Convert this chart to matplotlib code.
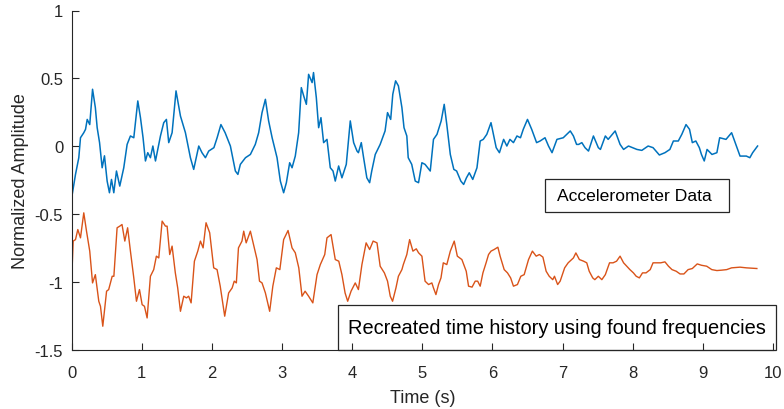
import matplotlib
matplotlib.use("Agg")
import matplotlib.pyplot as plt
from matplotlib.patches import Rectangle

plt.rcParams['font.family'] = ['Liberation Sans', 'DejaVu Sans']

# Accelerometer data
accel_t = [0.01, 0.057, 0.104, 0.128, 0.175, 0.20, 0.224, 0.26, 0.30, 0.34, 0.366, 0.40, 0.437, 0.47,
           0.508, 0.541, 0.57, 0.603, 0.641, 0.688, 0.745, 0.793, 0.84, 0.888, 0.945, 0.983, 1.02,
           1.054, 1.087, 1.125, 1.16, 1.197, 1.268, 1.315, 1.353, 1.386, 1.434, 1.49, 1.553, 1.624,
           1.695, 1.742, 1.814, 1.86, 1.909, 1.956, 2.03, 2.076, 2.13, 2.19, 2.265, 2.336, 2.372,
           2.407, 2.48, 2.55, 2.62, 2.668, 2.716, 2.764, 2.81, 2.86, 2.93, 2.977, 3.024, 3.063, 3.11,
           3.144, 3.19, 3.238, 3.276, 3.31, 3.348, 3.38, 3.43, 3.45, 3.49, 3.523, 3.556, 3.594, 3.642,
           3.689, 3.728, 3.76, 3.808, 3.855, 3.917, 3.974, 4.022, 4.07, 4.09, 4.131, 4.164, 4.21,
           4.25, 4.28, 4.33, 4.40, 4.47, 4.505, 4.55, 4.58, 4.62, 4.66, 4.71, 4.74, 4.78, 4.80, 4.85,
           4.90, 4.947, 4.995, 5.04, 5.114, 5.16, 5.21, 5.27, 5.313, 5.35, 5.40, 5.45, 5.49, 5.55,
           5.59, 5.63, 5.67, 5.72, 5.78, 5.826, 5.87, 5.92, 5.98, 6.015, 6.054, 6.10, 6.16, 6.206,
           6.25, 6.30, 6.35, 6.40, 6.44, 6.50, 6.56, 6.63, 6.68, 6.75, 6.80, 6.85, 6.92, 7.01, 7.11,
           7.155, 7.20, 7.23, 7.275, 7.32, 7.37, 7.44, 7.51, 7.54, 7.61, 7.65, 7.75, 7.82, 7.87, 7.94,
           8.06, 8.13, 8.22, 8.29, 8.38, 8.46, 8.53, 8.58, 8.65, 8.70, 8.76, 8.81, 8.85, 8.90, 8.95,
           8.98, 9.02, 9.06, 9.13, 9.20, 9.24, 9.33, 9.41, 9.47, 9.53, 9.62, 9.67, 9.71, 9.78]
accel_y = [-0.355, -0.207, -0.084, 0.063, 0.10, 0.125, 0.198, 0.16, 0.42, 0.285, 0.137, 0.027, -0.158,
           -0.07, -0.256, -0.342, -0.244, -0.342, -0.182, -0.293, -0.158, 0.014, 0.076, 0.063, 0.334,
           0.211, 0.063, -0.108, -0.047, -0.084, 0.002, -0.108, 0.076, 0.174, 0.198, 0.027, 0.10,
           0.408, 0.223, 0.10, -0.084, -0.17, 0.002, -0.047, -0.084, -0.035, -0.01, 0.063, 0.16, 0.10,
           0.002, -0.182, -0.207, -0.133, -0.084, -0.06, 0.014, 0.10, 0.248, 0.346, 0.187, 0.063,
           -0.084, -0.256, -0.342, -0.268, -0.121, -0.158, -0.072, 0.10, 0.432, 0.371, 0.309, 0.53,
           0.469, 0.543, 0.358, 0.137, 0.211, 0.027, 0.051, -0.158, -0.182, -0.256, -0.145, -0.232,
           -0.133, 0.187, 0.027, -0.035, -0.047, 0.027, -0.084, -0.232, -0.268, -0.182, -0.06, 0.014,
           0.113, 0.248, 0.198, 0.383, 0.482, 0.445, 0.285, 0.137, 0.076, -0.084, -0.133, -0.256,
           -0.268, -0.121, -0.133, -0.182, 0.051, 0.088, 0.187, 0.309, 0.16, -0.06, -0.17, -0.182,
           -0.256, -0.281, -0.232, -0.195, -0.244, -0.158, 0.039, 0.051, 0.088, 0.174, 0.088, -0.01,
           -0.047, 0.051, 0.002, 0.051, 0.027, 0.076, 0.063, 0.125, 0.198, 0.125, 0.027, 0.039, 0.063,
           0.002, -0.047, 0.051, 0.063, 0.113, 0.076, 0.014, 0.014, 0.027, -0.01, -0.035, 0.076, -0.01,
           -0.023, 0.076, 0.051, 0.113, 0.014, -0.023, 0.002, -0.023, -0.03, 0.002, -0.01, -0.064,
           -0.047, -0.023, 0.039, 0.039, 0.088, 0.16, 0.125, 0.027, 0.039, -0.01, -0.06, -0.108,
           -0.023, -0.06, -0.047, 0.063, 0.051, 0.10, 0.014, -0.072, -0.072, -0.084, -0.047, 0.002]

# Recreated time history
recon_t = [0.01, 0.024, 0.057, 0.09, 0.128, 0.175, 0.214, 0.26, 0.30, 0.34, 0.389, 0.413, 0.446, 0.50,
           0.53, 0.58, 0.604, 0.65, 0.688, 0.72, 0.76, 0.80, 0.84, 0.888, 0.926, 0.969, 1.007, 1.04,
           1.078, 1.125, 1.172, 1.21, 1.244, 1.292, 1.339, 1.363, 1.40, 1.434, 1.48, 1.514, 1.553,
           1.60, 1.638, 1.67, 1.705, 1.752, 1.80, 1.838, 1.876, 1.918, 1.97, 2.027, 2.075, 2.12,
           2.184, 2.24, 2.29, 2.32, 2.35, 2.38, 2.43, 2.455, 2.49, 2.55, 2.60, 2.645, 2.68, 2.716,
           2.764, 2.825, 2.87, 2.92, 2.97, 3.024, 3.087, 3.144, 3.19, 3.24, 3.286, 3.33, 3.38, 3.44,
           3.50, 3.547, 3.61, 3.642, 3.70, 3.76, 3.81, 3.855, 3.90, 3.937, 3.985, 4.045, 4.09, 4.14,
           4.20, 4.25, 4.30, 4.355, 4.40, 4.46, 4.505, 4.544, 4.577, 4.625, 4.66, 4.71, 4.73, 4.78,
           4.82, 4.867, 4.915, 4.947, 4.995, 5.04, 5.09, 5.137, 5.16, 5.195, 5.232, 5.267, 5.30, 5.35,
           5.40, 5.456, 5.50, 5.565, 5.627, 5.66, 5.71, 5.755, 5.79, 5.826, 5.865, 5.91, 5.945, 5.98,
           6.025, 6.078, 6.11, 6.168, 6.215, 6.26, 6.30, 6.357, 6.405, 6.453, 6.515, 6.57, 6.624,
           6.67, 6.72, 6.766, 6.81, 6.86, 6.885, 6.93, 6.966, 7.03, 7.08, 7.155, 7.19, 7.24, 7.30,
           7.345, 7.38, 7.43, 7.46, 7.51, 7.56, 7.61, 7.67, 7.72, 7.77, 7.82, 7.87, 7.915, 7.96, 8.01,
           8.05, 8.095, 8.14, 8.19, 8.25, 8.29, 8.35, 8.40, 8.46, 8.51, 8.56, 8.62, 8.675, 8.73, 8.79,
           8.85, 8.92, 8.98, 9.055, 9.127, 9.20, 9.27, 9.34, 9.41, 9.53, 9.62, 9.77]
recon_y = [-0.883, -0.698, -0.687, -0.613, -0.674, -0.49, -0.625, -0.772, -1.006, -0.945, -1.141,
           -1.178, -1.325, -1.067, -1.055, -0.957, -0.957, -0.60, -0.588, -0.576, -0.698, -0.60,
           -0.772, -0.969, -1.141, -1.055, -1.166, -1.178, -1.264, -0.957, -0.908, -0.809, -0.822,
           -0.551, -0.588, -0.588, -0.797, -0.735, -0.932, -1.043, -1.215, -1.104, -1.116, -1.104,
           -1.153, -0.846, -0.772, -0.698, -0.748, -0.563, -0.637, -0.895, -0.908, -1.03, -1.251,
           -1.08, -1.043, -0.993, -1.006, -0.748, -0.698, -0.625, -0.711, -0.625, -0.735, -0.834,
           -0.993, -1.006, -1.08, -1.215, -1.03, -0.895, -0.908, -0.687, -0.62, -0.748, -0.784,
           -0.895, -1.104, -1.067, -1.104, -1.153, -0.945, -0.871, -0.797, -0.674, -0.65, -0.834,
           -0.846, -0.945, -1.08, -1.141, -1.067, -1.006, -1.055, -0.871, -0.711, -0.76, -0.698,
           -0.711, -0.883, -0.932, -0.993, -1.104, -1.141, -1.043, -0.957, -0.908, -0.871, -0.797,
           -0.687, -0.772, -0.755, -0.784, -0.809, -0.993, -1.018, -1.006, -1.043, -1.092, -1.018,
           -0.969, -0.858, -0.871, -0.772, -0.698, -0.809, -0.834, -0.92, -1.03, -1.037, -0.993,
           -0.993, -1.03, -0.932, -0.858, -0.797, -0.772, -0.76, -0.743, -0.809, -0.908, -0.932,
           -0.969, -1.03, -1.018, -0.957, -0.945, -0.834, -0.772, -0.809, -0.797, -0.816, -0.92,
           -0.957, -0.982, -0.957, -1.018, -0.993, -0.895, -0.858, -0.822, -0.785, -0.834, -0.846,
           -0.858, -0.92, -0.969, -0.982, -0.957, -0.982, -0.945, -0.858, -0.858, -0.846, -0.809,
           -0.858, -0.883, -0.908, -0.932, -0.957, -0.969, -0.932, -0.932, -0.908, -0.858, -0.858,
           -0.858, -0.851, -0.883, -0.908, -0.92, -0.94, -0.94, -0.908, -0.90, -0.866, -0.876,
           -0.883, -0.908, -0.915, -0.912, -0.908, -0.895, -0.89, -0.895, -0.90]

x_ticks = [0, 1, 2, 3, 4, 5, 6, 7, 8, 9, 10]
y_ticks = [-1.5, -1, -0.5, 0, 0.5, 1]
y_tick_labels = ['-1.5', '-1', '-0.5', '0', '0.5', '1']

W, H = 784, 410
fig = plt.figure(figsize=(W / 100, H / 100), dpi=100)
ax = fig.add_axes([71.5 / W, 1 - 351 / H, (773 - 71.5) / W, (351 - 11.5) / H])

ax.plot(accel_t, accel_y, color='#0072BD', linewidth=1.1)
ax.plot(recon_t, recon_y, color='#D95319', linewidth=1.0)

axis_col = '#262626'
ax.set_xlim(0, 10)
ax.set_ylim(-1.5, 1)
ax.set_xticks(x_ticks)
ax.set_yticks(y_ticks)
ax.set_yticklabels(y_tick_labels)
ax.tick_params(direction='in', length=5, width=0.8, colors=axis_col, labelsize=12)
ax.tick_params(axis='x', pad=11)
ax.tick_params(axis='y', pad=6)
ax.spines['top'].set_visible(False)
ax.spines['right'].set_visible(False)
for s in ('left', 'bottom'):
    ax.spines[s].set_color(axis_col)
    ax.spines[s].set_linewidth(0.8)

ax.set_xlabel('Time (s)', fontsize=13, color=axis_col, labelpad=6)
ax.set_ylabel('Normalized Amplitude', fontsize=13, color=axis_col, labelpad=4)

# Annotation text boxes (figure pixel coordinates)
def text_box(x0, y0, x1, y1, label, size, pad):
    fig.patches.append(Rectangle((x0 / W, 1 - y1 / H), (x1 - x0) / W, (y1 - y0) / H,
                                 transform=fig.transFigure, fill=False,
                                 edgecolor='#262626', linewidth=0.9))
    fig.text((x0 + pad) / W, 1 - (y0 + y1) / 2 / H, label, fontsize=size,
             color='black', ha='left', va='center')

text_box(545, 180, 729, 213, 'Accelerometer Data', 12.6, 12)
text_box(338, 306, 776, 351, 'Recreated time history using found frequencies', 14.4, 10)

fig.savefig('out.png', dpi=100)
